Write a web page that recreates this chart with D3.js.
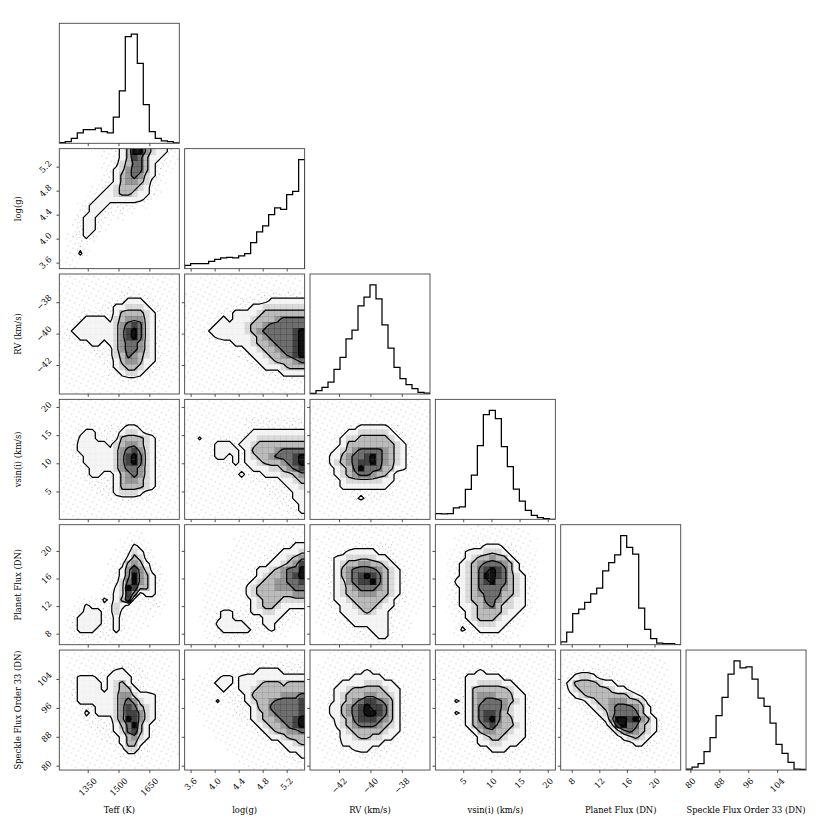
<!DOCTYPE html>
<html>
<head>
<meta charset="utf-8">
<script src="https://cdn.jsdelivr.net/npm/d3@7"></script>
<style>
  body { margin: 0; background: #fff; }
  svg text { font-family: "DejaVu Serif", serif; font-size: 8.4px; fill: #000; }
</style>
</head>
<body>
<svg id="chart" width="830" height="830"></svg>
<script>
// parameters, axis ranges and ticks
const PARAMS = ["Teff (K)", "log(g)", "RV (km/s)", "vsin(i) (km/s)", "Planet Flux (DN)", "Speckle Flux Order 33 (DN)"];
const RANGES = [[1211.5, 1796], [3.5, 5.5], [-43.85, -36.2], [0.05, 21.35], [6.4, 23.8], [78.8, 112.0]];
const TICKS = [[1350, 1500, 1650], [3.6, 4.0, 4.4, 4.8, 5.2], [-42, -40, -38], [5, 10, 15, 20], [8, 12, 16, 20], [80, 88, 96, 104]];
const TICK_DIGITS = [0, 1, 0, 0, 0, 0];

// 1D histograms (20 bins each, sample counts)
const HIST_TEFF  = [2, 5, 15, 31, 41, 41, 45, 35, 31, 78, 156, 318, 325, 238, 115, 35, 15, 7, 5, 1];
const HIST_LOGG  = [10, 15, 15, 15, 22, 28, 32, 34, 32, 38, 45, 78, 110, 128, 162, 182, 178, 222, 232, 327];
const HIST_RV    = [2, 10, 20, 36, 74, 110, 166, 192, 265, 291, 328, 286, 208, 138, 80, 46, 28, 16, 5, 3];
const HIST_VSINI = [17, 16, 17, 34, 37, 89, 132, 220, 312, 325, 300, 217, 157, 90, 54, 27, 12, 5, 2, 0];
const HIST_PFLUX = [8, 37, 92, 105, 125, 150, 167, 218, 242, 265, 322, 287, 267, 108, 45, 18, 5, 3, 3, 0];
const HIST_SFLUX = [3, 9, 19, 55, 97, 163, 217, 287, 326, 305, 308, 272, 215, 190, 140, 77, 50, 23, 3, 2];

// 2D sample density, 20x20 cells over the axis ranges, top row = highest y value (0 = empty .. 9 = densest)
const DENS_LOGG_TEFF = [
  "00000001123599643321", "00000001123587533211", "00000001124577532211", "00000001234677532110",
  "00000001235676432100", "00000011235665421100", "00000112345554321000", "00000123345543321000",
  "00001233333333210000", "00012333222221100000", "00012332212110000000", "00123322111000000000",
  "00123321100000000000", "00123321000000000000", "01223210000000000000", "01122100000000000000",
  "01121000000000000000", "01131000000000000000", "11110000000000000000", "01100000000000000000"];
const DENS_RV_TEFF = [
  "01111111111111111110", "11111111111111111111", "11111111111211111111", "11111111112222211111",
  "11111111222333221111", "11111112233444322111", "11112222235555432111", "11123333245666432111",
  "11233333346787432111", "12333333346897432111", "12233333346897432111", "11122332346776432111",
  "11111222246776432111", "11111122245765432111", "11111112235665332111", "11111111234554322111",
  "11111111223443221111", "11111111112222111111", "01111111111111111110", "01111111111111111100"];
const DENS_RV_LOGG = [
  "00111111111111111111", "01111111111111111111", "01111111111111111111", "11111111111122222222",
  "11111111122222333333", "11111112222334444444", "11111122333345555555", "11111232333455567777",
  "11112333334556777777", "11123333334567777789", "11112333333456777789", "11111122333455677789",
  "11111111223345567789", "11111111122334556789", "11111111112233455567", "11111111111223334555",
  "11111111111112223333", "11111111111111122222", "01111111111111111111", "00111111111111111111"];
const DENS_VSINI_TEFF = [
  "01111111111111111110", "11111111111111111111", "11111111111111111111", "11111111111111111111",
  "11112211222332211111", "11123322223443221111", "11133322225555432111", "11233333245665432111",
  "11233333346786432111", "11223333346897432111", "11123333346897432111", "11112333346776432111",
  "11112332235676432111", "11112222235665432111", "11111222235555432111", "11111122234443221111",
  "11111111222222211111", "11111111111111111111", "11111111111111111111", "01111111111111111110"];
const DENS_VSINI_LOGG = [
  "01111111111111111111", "11111111111111111111", "11111111111111111111", "11111111112222222222",
  "11111111112222222222", "11111111112333333333", "11311222223344444444", "11112333233455555555",
  "11112333323555567777", "11112332323455677789", "11111222323345556789", "11111122222333445678",
  "11111111232223334456", "11111111121222223345", "11111111111112222334", "11111111111111222233",
  "11111111111111122233", "11111111111111122223", "01111111111111111223", "00111111111111111122"];
const DENS_VSINI_RV = [
  "01111111111111111110", "11111111111111111111", "11111111111111111111", "11111111111111111111",
  "11111122333332211111", "11111233444443221111", "11112344555554321111", "11112355555555432111",
  "11123456777765432111", "11133567789765432111", "11134567889765432111", "11123457977755332111",
  "11123456776553211111", "11112344444433211111", "11112333333332111111", "11111222222222111111",
  "11111112322211111111", "11111111111111111111", "01111111111111111110", "00111111111111111100"];
const DENS_PF_TEFF = [
  "00000000000000000000", "00000000000111000000", "00000000001111100000", "00000000001132100000",
  "00000000011243210000", "00000000111354210000", "00000000112565321000", "00000000123686421000",
  "00000000123696532100", "00000001224796532100", "00000001134985532100", "00000001234862332100",
  "00011113235822221100", "00113222243211122100", "01123332242111111000", "01233332232111110000",
  "01233332232111100000", "01233322232111000000", "01222222221110000000", "01111111111100000000"];
const DENS_PF_LOGG = [
  "00000000000111111111", "00000000011111111111", "00000000111111111122", "00000000111111122233",
  "00000001111111223334", "00000001111112233456", "00000011111122334568", "00000111111233456779",
  "00001111111234556789", "00011111112345566778", "00011111113455566677", "00011111113455555566",
  "00011111112345554444", "00011111112345543333", "00011233222334433222", "00111233222223332221",
  "00011333332223322111", "00011233333222321100", "00011222222211111000", "00001111111111100000"];
const DENS_PF_RV = [
  "00011111111111111000", "00111111111111111100", "01111111111111111110", "01111112222222111110",
  "01111233333222111110", "01123344444332211110", "01123455665543211110", "01123567777654321110",
  "01123567898754321110", "01123467889754321110", "01123456777654321110", "01123455666554321110",
  "01123345555543221110", "01122334555433211110", "01112333454332211100", "01112233333332111000",
  "01111223333332111000", "00111122223332111000", "00011112222332110000", "00001111111221110000"];
const DENS_PF_VSINI = [
  "00000111111111100000", "00001111111111110000", "00011111111111111000", "00011122333221110000",
  "00112333444322111000", "00112345565532111000", "00123456777653211000", "00123457898753211000",
  "00123457998754321000", "00133457897754321000", "00123457777654321000", "00123456777554321000",
  "00123455776543321000", "00123345675443321000", "00112345555433211000", "00012345554332110000",
  "00012234443321100000", "00013223333211000000", "00011122222211000000", "00001111111110000000"];
const DENS_SF_TEFF = [
  "00111111111111111100", "01111111111111111110", "01111111112221111110", "01111112233222111110",
  "11233322333322211111", "11233332345322111111", "11233332345532211111", "11233333346643332111",
  "11233333346764332111", "11122233346875432111", "11113233346886432111", "11112222246986432111",
  "11111222235795322111", "11111122234785321111", "11111112223564321111", "11111111223553211111",
  "11111111122442211111", "11111111112222111111", "01111111111111111110", "00111111111111111100"];
const DENS_SF_LOGG = [
  "00000011111111111111", "00000111111111111111", "00001111111122222222", "00011111112233332222",
  "00111233233333333333", "01112333233345554555", "01111232233455555555", "01111122223555556667",
  "01111312223455677778", "00111111222355777778", "00111111222345677778", "00011111122345567789",
  "00011111112234556789", "00001111111223455667", "00000111111122334555", "00000011111111223345",
  "00000001111111122333", "00000000111111112223", "00000000011111111122", "00000000001111111111"];
const DENS_SF_RV = [
  "00011111111111111100", "00111111111111111110", "01111111111111111110", "01111112232221111110",
  "01111223333322111110", "01112333344433211110", "01123345555543321110", "01123455566554321110",
  "01123456788765321110", "01133567898875321110", "01133567899875321110", "01123457888765321110",
  "01113456777654321110", "01112345555543321110", "01112334554433211110", "01111333333322111110",
  "01111223332221111100", "00111111222211111100", "00111111111111111000", "00011111111111110000"];
const DENS_SF_VSINI = [
  "01111111111111111110", "11111111111111111111", "11111111111111111111", "11111223222111111111",
  "11112333333221111111", "11112334444332111111", "11112355555543211111", "11112356665553321111",
  "11132356777654321111", "11112357777643321111", "11132357887543321111", "11112357897553321111",
  "11112356786554321111", "11111235665543321111", "11111123455433321111", "11111123344333211111",
  "11111112233322111111", "11111111122221111111", "01111111111111111110", "00111111111111111100"];
const DENS_SF_PF = [
  "01111111111111110000", "11111111111111111000", "11111111111111111100", "11222222211111111100",
  "12344322211111111100", "23555543322111111110", "13455555433211111110", "12345555555432111110",
  "11223455666554221111", "11122345677765321111", "11112234677775321111", "11111223699896532111",
  "11111122489775432111", "11111112246765432111", "11111111223454321111", "11111111112233221111",
  "01111111111122211111", "00111111111111111111", "00011111111111111110", "00000111111111111100"];

const HISTS = [HIST_TEFF, HIST_LOGG, HIST_RV, HIST_VSINI, HIST_PFLUX, HIST_SFLUX];
const DENSITY = {
  "1,0": DENS_LOGG_TEFF,
  "2,0": DENS_RV_TEFF, "2,1": DENS_RV_LOGG,
  "3,0": DENS_VSINI_TEFF, "3,1": DENS_VSINI_LOGG, "3,2": DENS_VSINI_RV,
  "4,0": DENS_PF_TEFF, "4,1": DENS_PF_LOGG, "4,2": DENS_PF_RV, "4,3": DENS_PF_VSINI,
  "5,0": DENS_SF_TEFF, "5,1": DENS_SF_LOGG, "5,2": DENS_SF_RV, "5,3": DENS_SF_VSINI, "5,4": DENS_SF_PF
};

// contour levels on the density scale
const LEVELS = [2.5, 4.5, 6.5, 8.5];

// layout
const SIZE = 120, PITCH = 125.35, LEFT = 59.3, TOP = 23.3;
const FS = 8.4;
const N = PARAMS.length;

const svg = d3.select("#chart");
const defs = svg.append("defs");

// two crossed dot lattices give the speckled look of the plotted samples
function addHaze(id, step, angle, r, color) {
  const p = defs.append("pattern")
    .attr("id", id)
    .attr("patternUnits", "userSpaceOnUse")
    .attr("width", step).attr("height", step)
    .attr("patternTransform", `rotate(${angle})`);
  p.append("circle").attr("cx", step / 2).attr("cy", step / 2).attr("r", r).attr("fill", color);
}
addHaze("haze-a", 5.3, 27, 0.5, "#9a9a9a");
addHaze("haze-b", 4.1, -38, 0.5, "#a2a2a2");

const xScales = RANGES.map((d, j) => d3.scaleLinear().domain(d).range([LEFT + j * PITCH, LEFT + j * PITCH + SIZE]));
const yScales = RANGES.map((d, i) => d3.scaleLinear().domain(d).range([TOP + i * PITCH + SIZE, TOP + i * PITCH]));
const shade = d3.scalePow().exponent(1.7).domain([2.5, 9]).range([0, 0.93]).clamp(true);

const fmt = j => v => (TICK_DIGITS[j] ? v.toFixed(TICK_DIGITS[j]) : String(v)).replace("-", "\u2212");

function panelClip(i, j) {
  const id = `clip-${i}-${j}`;
  defs.append("clipPath").attr("id", id)
    .append("rect")
    .attr("x", LEFT + j * PITCH).attr("y", TOP + i * PITCH)
    .attr("width", SIZE).attr("height", SIZE);
  return `url(#${id})`;
}

function drawHist(i) {
  const counts = HISTS[i];
  const n = counts.length;
  const [lo, hi] = RANGES[i];
  const edges = d3.range(n + 1).map(k => lo + k * (hi - lo) / n);
  const x = xScales[i];
  const y = d3.scaleLinear().domain([0, 1.1 * d3.max(counts)])
    .range([TOP + i * PITCH + SIZE, TOP + i * PITCH]);
  const pts = [[edges[0], 0]].concat(counts.map((c, k) => [edges[k], c]), [[edges[n], 0]]);
  const line = d3.line().curve(d3.curveStepAfter).x(d => x(d[0])).y(d => y(d[1]));
  svg.append("g").attr("clip-path", panelClip(i, i))
    .append("path")
    .attr("d", line(pts))
    .attr("fill", "none")
    .attr("stroke", "#000")
    .attr("stroke-width", 1.25);
}

function drawDensity(i, j) {
  const rows = DENSITY[`${i},${j}`];
  const grid = rows.map(r => Array.from(r, Number));
  const ny = grid.length, nx = grid[0].length;
  const [x0, x1] = RANGES[j], [y0, y1] = RANGES[i];
  const dx = (x1 - x0) / nx, dy = (y1 - y0) / ny;
  const xs = xScales[j], ys = yScales[i];

  const cells = [];
  grid.forEach((row, r) => row.forEach((v, c) => cells.push({r, c, v})));
  const cellRect = (sel, grow) => sel
    .attr("x", d => xs(x0 + d.c * dx))
    .attr("y", d => ys(y1 - d.r * dy))
    .attr("width", d => xs(x0 + (d.c + 1) * dx) - xs(x0 + d.c * dx) + grow)
    .attr("height", d => ys(y1 - (d.r + 1) * dy) - ys(y1 - d.r * dy) + grow);

  const g = svg.append("g").attr("clip-path", panelClip(i, j));

  // scattered samples
  g.append("g").selectAll("rect")
    .data(cells.filter(d => d.v >= 1))
    .join("rect")
    .call(cellRect, 0)
    .attr("fill", "url(#haze-a)");
  g.append("g").selectAll("rect")
    .data(cells.filter(d => d.v >= 2))
    .join("rect")
    .call(cellRect, 0)
    .attr("fill", "url(#haze-b)");

  // contours from an edge-padded copy of the grid, so lines run off the panel
  const W = nx + 2, H = ny + 2;
  const padded = [];
  for (let r = -1; r <= ny; r++) {
    for (let c = -1; c <= nx; c++) {
      padded.push(grid[Math.max(0, Math.min(ny - 1, r))][Math.max(0, Math.min(nx - 1, c))]);
    }
  }
  const contours = d3.contours().size([W, H]).thresholds(LEVELS)(padded);
  const proj = d3.geoTransform({
    point(px, py) { this.stream.point(xs(x0 + (px - 1) * dx), ys(y1 - (py - 1) * dy)); }
  });
  const path = d3.geoPath(proj);

  // white base under the lowest contour
  g.append("path")
    .attr("d", path(contours[0]))
    .attr("fill", "#fff")
    .attr("fill-rule", "evenodd");

  // grey density blocks, kept inside the lowest contour
  const innerId = `inner-${i}-${j}`;
  defs.append("clipPath").attr("id", innerId)
    .append("path")
    .attr("d", path(contours[0]))
    .attr("clip-rule", "evenodd");
  g.append("g").attr("clip-path", `url(#${innerId})`)
    .selectAll("rect")
    .data(cells.filter(d => d.v >= 3))
    .join("rect")
    .call(cellRect, 0.3)
    .attr("fill", "#000")
    .attr("fill-opacity", d => shade(d.v));

  // contour lines
  g.append("g").selectAll("path")
    .data(contours)
    .join("path")
    .attr("d", path)
    .attr("fill", "none")
    .attr("stroke", "#000")
    .attr("stroke-width", 1.25)
    .attr("stroke-linejoin", "round");
}

function drawAxes(i, j) {
  const px = LEFT + j * PITCH, py = TOP + i * PITCH;
  const bottom = svg.append("g")
    .attr("transform", `translate(0,${py + SIZE})`)
    .call(d3.axisBottom(xScales[j]).tickValues(TICKS[j]).tickSize(2.9).tickSizeOuter(0).tickFormat(""));
  bottom.select(".domain").remove();
  bottom.selectAll(".tick line").attr("stroke", "#000").attr("stroke-width", 0.7);

  if (i !== j) {
    const left = svg.append("g")
      .attr("transform", `translate(${px},0)`)
      .call(d3.axisLeft(yScales[i]).tickValues(TICKS[i]).tickSize(2.9).tickSizeOuter(0).tickFormat(""));
    left.select(".domain").remove();
    left.selectAll(".tick line").attr("stroke", "#000").attr("stroke-width", 0.7);
  }

  svg.append("rect")
    .attr("x", px).attr("y", py)
    .attr("width", SIZE).attr("height", SIZE)
    .attr("fill", "none")
    .attr("stroke", "#444")
    .attr("stroke-width", 0.9);
}

function rotatedLabel(text) {
  return svg.append("text")
    .text(text)
    .attr("text-anchor", "middle")
    .attr("dy", "0.36em");
}

// panels
for (let i = 0; i < N; i++) {
  for (let j = 0; j <= i; j++) {
    if (i === j) drawHist(i);
    else drawDensity(i, j);
    drawAxes(i, j);
  }
}

// bottom tick labels and x titles
const axisY = TOP + (N - 1) * PITCH + SIZE;
for (let j = 0; j < N; j++) {
  TICKS[j].forEach(v => {
    const t = rotatedLabel(fmt(j)(v));
    const w = t.node().getComputedTextLength();
    const half = (w + FS * 1.16) * 0.3536;
    t.attr("transform", `translate(${xScales[j](v)},${axisY + 5.8 + half}) rotate(-45)`);
  });
  svg.append("text")
    .attr("x", LEFT + j * PITCH + SIZE / 2)
    .attr("y", axisY + 43.3)
    .attr("text-anchor", "middle")
    .text(PARAMS[j]);
}

// left tick labels and y titles
for (let i = 1; i < N; i++) {
  TICKS[i].forEach(v => {
    const t = rotatedLabel(fmt(i)(v));
    const w = t.node().getComputedTextLength();
    const half = (w + FS * 1.16) * 0.3536;
    t.attr("transform", `translate(${LEFT - 5.8 - half},${yScales[i](v)}) rotate(-45)`);
  });
  svg.append("text")
    .attr("transform", `translate(${LEFT - 38},${TOP + i * PITCH + SIZE / 2}) rotate(-90)`)
    .attr("text-anchor", "middle")
    .text(PARAMS[i]);
}
</script>
</body>
</html>
